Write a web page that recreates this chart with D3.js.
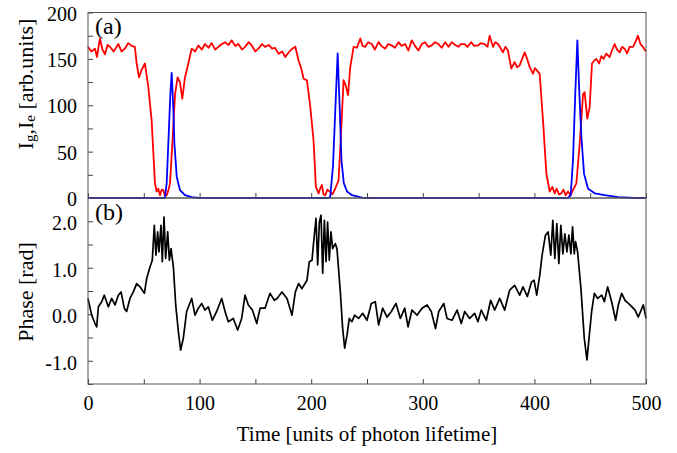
<!DOCTYPE html>
<html>
<head>
<meta charset="utf-8">
<script src="https://cdn.jsdelivr.net/npm/d3@7"></script>
<style>
    body { margin: 0; background: #fff; }
    text { font-family: "Liberation Serif", "Times New Roman", serif; fill: #000; }
</style>
</head>
<body>
<div id="chart"></div>
<script>
// red trace (I_g)
const redT = [0, 3, 6.3, 8, 10.7, 13, 15.2, 17.5, 19.7, 23, 27.2, 30, 33, 36, 39, 42, 43.6, 45.7, 48, 51, 54, 57, 60, 61.5, 63, 64.5, 66, 67.5, 69, 70.5, 72, 73.5, 75.6, 78, 80.3, 82.4, 84.5, 86.9, 89.9, 92.9, 96, 98.9, 102, 104.8, 108, 110.8, 114, 116.8, 120, 122.8, 126, 128.7, 132, 134.7, 138, 140.7, 144, 146.7, 150, 152.6, 156, 158.6, 162, 164.9, 167.5, 170.8, 174, 176.8, 179.8, 183, 185.8, 188.7, 191, 193.2, 196.2, 199.2, 202.1, 204.2, 206.6, 208, 209.6, 211, 212.6, 214.5, 217, 219, 221.5, 224.5, 226.6, 229, 231, 233, 235, 238, 241, 244, 246, 248.4, 251, 254.3, 257, 260.3, 263, 266.3, 269, 272.2, 275, 278.2, 281, 284.2, 287.1, 290.1, 293, 296.1, 299, 302, 305, 308, 311, 314, 317, 320, 323, 326, 329, 332, 334, 337.5, 340, 343.5, 346, 349.4, 352, 355.4, 358, 359.9, 362.9, 365, 367.4, 369.5, 371.8, 374, 376.3, 379.3, 382.3, 384.5, 386.8, 389, 391.3, 393.5, 395.8, 398.7, 400.5, 402.6, 404.7, 407.7, 410.7, 413.7, 416, 418.2, 420, 422, 424.1, 426, 428, 430.1, 432.5, 434.6, 437.6, 440.6, 443.6, 445, 447.4, 449.5, 451.6, 453.5, 455.5, 458, 460, 462, 464.4, 467.4, 469.5, 471.9, 474, 476.4, 478.5, 480.8, 483, 485.3, 488.3, 490.5, 492.8, 495, 497.3, 499, 500];
const redV = [163, 158, 161, 152, 172, 160, 155, 165, 163, 158, 166, 158, 161, 167, 164, 163, 145, 130, 138, 145, 120, 84, 16, 7, 10, 3, 9, 8.6, 2, 3, 8, 16, 59, 112, 130, 125, 107, 130, 145, 161, 158, 164.5, 160, 166, 162, 167, 160, 163, 166, 168, 165, 170, 164, 166, 160, 163, 168, 164.5, 158, 161, 166, 163, 165, 161, 162, 155.6, 158, 152, 157, 161, 163, 148, 140, 128.6, 126.8, 98, 62, 12, 5, 10, 14, 4, 3, 9, 6.8, 4, 10, 19, 66, 127, 121, 111, 141, 163, 162, 172, 164, 163, 168, 166, 160, 168, 164, 161, 166, 164.5, 162, 168, 164, 166, 159, 170, 164, 159, 166, 168, 163, 164.5, 168, 166, 162, 168, 163, 168, 165, 163, 166, 166, 163, 168, 164, 164.5, 167, 166, 163, 175, 163, 168, 166, 162, 157, 163, 159, 139.5, 146.6, 141, 143, 150, 157, 150, 141, 134, 140, 137, 134, 84, 26.5, 7, 12, 5, 10, 4, 5, 9, 3, 7, 3, 8.6, 15.8, 58.8, 112, 114, 85.6, 98, 145, 148, 150, 145, 153, 150, 155.6, 152, 159, 166, 160, 157, 163, 161, 156, 163, 163, 168, 175, 166, 163, 159.5, 158];

// blue trace (I_e)
const blueT = [0, 66, 68.9, 70.5, 72.6, 73.8, 75, 76.5, 77.4, 79.5, 82.4, 86.9, 92.9, 100, 215, 217, 219.5, 221.6, 223.7, 225.6, 227.1, 229.2, 232.1, 236.6, 245.5, 255, 430, 432.5, 434.6, 436.6, 438.5, 440.3, 442.1, 444.5, 448.1, 454.1, 463, 475, 490, 500];
const blueV = [0, 0, 0, 16, 77, 112, 135, 95, 59, 23, 8.6, 3, 1, 0, 0, 1, 34, 95, 156, 95, 41, 16, 7, 3, 0.5, 0, 0, 3, 41, 112, 170, 112, 66, 26, 10, 5, 3, 1, 0, 0];

// phase trace
const phaseT = [0, 3.3, 6.3, 7.8, 9.3, 12.3, 14.6, 18.2, 21.2, 24.2, 27.2, 29.6, 32.5, 34.6, 37.6, 40.6, 43.6, 46.6, 50.5, 52.6, 55.6, 57.6, 59.4, 60.9, 62.4, 63.6, 65.4, 66.6, 68.1, 69.6, 71.4, 72.9, 74.4, 76.5, 78.6, 81, 83, 85.4, 88.4, 92.9, 95.9, 98.9, 101.9, 104.8, 107.8, 111.4, 115.3, 119.8, 122.8, 125.7, 130.2, 134.1, 137.7, 140.7, 143.7, 147.3, 151.2, 154.2, 158.6, 163.1, 167, 169.4, 173.8, 178.3, 182.8, 185.8, 188.7, 191.7, 196.2, 198.3, 200.7, 202.8, 204.3, 205.8, 207.3, 208.8, 210.3, 211.8, 213.3, 214.7, 216.2, 217.7, 219.2, 221.6, 223.1, 226.1, 228.2, 230, 232.1, 234.1, 236.5, 238.9, 242.5, 246.1, 250, 253.9, 257.4, 260.4, 264, 268, 271.8, 276, 279.9, 283.8, 286.8, 290.3, 294.8, 299.3, 303.8, 307.6, 311.4, 314.3, 318.8, 321.7, 326.2, 330.7, 334.5, 337.5, 342, 346.4, 349.4, 352.4, 356.9, 360.8, 364.4, 368.9, 373.4, 377.8, 382.3, 386.8, 389.8, 393.7, 397.3, 399.7, 402.1, 404.8, 406.9, 409.9, 412.3, 414.7, 416.5, 418.3, 420.1, 421.9, 423.7, 425.5, 427.3, 429.1, 430.9, 432.7, 434.2, 435.7, 436.9, 438.7, 441.7, 444.7, 447.1, 449.2, 451.3, 453.7, 456.7, 460.3, 462.7, 465.6, 469.2, 472.8, 475.2, 478.2, 481.2, 485.7, 490.2, 493.1, 497.6, 500];
const phaseV = [0.34, -0.02, -0.2, -0.27, 0.16, 0.27, 0.41, 0.16, 0.34, 0.2, 0.41, 0.48, 0.13, 0.06, 0.34, 0.48, 0.66, 0.59, 0.45, 0.77, 1.02, 1.16, 1.91, 1.27, 1.77, 1.34, 1.91, 1.13, 2.09, 1.2, 1.77, 1.16, 1.41, 1.02, 0.2, -0.38, -0.77, -0.52, 0.06, 0.34, -0.02, 0.13, 0.23, 0.09, 0.16, -0.13, 0.06, 0.34, 0.06, -0.16, -0.09, -0.34, -0.09, 0.41, 0.2, 0.09, -0.2, 0.13, 0.13, 0.45, 0.3, 0.34, 0.48, 0.34, -0.02, 0.48, 0.66, 0.55, 0.73, 1.13, 1.16, 1.7, 2.06, 1.06, 1.98, 2.13, 0.88, 2.02, 1.13, 1.98, 1.16, 1.77, 1.41, 1.52, 1.41, 0.48, -0.31, -0.73, -0.45, -0.09, -0.16, -0.02, -0.09, 0.02, -0.13, 0.23, 0.27, -0.23, 0.13, -0.06, 0.06, 0.23, -0.09, 0.13, -0.27, 0.09, -0.02, 0.13, 0.2, 0.06, -0.31, 0.06, 0.23, -0.09, -0.13, 0.09, -0.2, 0.06, -0.09, 0.02, -0.16, 0.09, -0.13, 0.3, 0.09, 0.34, 0.09, 0.52, 0.62, 0.41, 0.59, 0.38, 0.69, 0.73, 0.41, 0.84, 1.27, 1.7, 1.77, 1.27, 2.02, 1.2, 1.95, 1.09, 1.91, 1.3, 1.73, 1.34, 1.7, 1.3, 1.88, 1.3, 1.56, 1.34, 0.55, -0.52, -0.98, -0.45, 0.06, 0.45, 0.34, 0.41, 0.27, 0.59, 0.27, -0.13, 0.2, 0.45, 0.3, 0.2, 0.09, -0.06, 0.2, -0.09];

const xTicks = [0, 50, 100, 150, 200, 250, 300, 350, 400, 450, 500];
const topTicks = [0, 25, 50, 75, 100, 125, 150, 175, 200];
const botTicks = [-1.5, -1, -0.5, 0, 0.5, 1, 1.5, 2, 2.5];

const W = 677, H = 453;
const svg = d3.select('#chart').append('svg')
    .attr('width', W)
    .attr('height', H);

const x = d3.scaleLinear().domain([0, 500]).range([88, 646]);
const yTop = d3.scaleLinear().domain([0, 200]).range([198, 12.5]);
const yBot = d3.scaleLinear().domain([-1.5, 2.5]).range([384, 198]);

function styleAxis(g) {
    g.select('.domain').remove();
    g.selectAll('line').attr('stroke', '#444');
    g.selectAll('text').style('font-size', '20px').style('font-family', '"Liberation Serif", serif');
}

// ticks of the top panel
svg.append('g')
    .attr('transform', 'translate(88,0)')
    .call(d3.axisLeft(yTop).tickValues(topTicks).tickSize(-5).tickPadding(11)
        .tickFormat(d => d % 50 === 0 ? d : ''))
    .call(styleAxis)
    .selectAll('text').attr('dy', '0.38em');

svg.append('g')
    .attr('transform', 'translate(0,198)')
    .call(d3.axisBottom(x).tickValues(xTicks).tickSize(-5).tickFormat(''))
    .call(styleAxis);

// ticks of the bottom panel
svg.append('g')
    .attr('transform', 'translate(88,0)')
    .call(d3.axisLeft(yBot).tickValues(botTicks).tickSize(-5).tickPadding(11)
        .tickFormat(d => Number.isInteger(d) && d >= -1 && d <= 2 ? d.toFixed(1) : ''))
    .call(styleAxis)
    .selectAll('text').attr('dy', '0.42em');

svg.append('g')
    .attr('transform', 'translate(0,384)')
    .call(d3.axisBottom(x).tickValues(xTicks).tickSize(-5).tickPadding(12)
        .tickFormat(d => d % 100 === 0 ? d : ''))
    .call(styleAxis);

// curves
const lineTop = d3.line().x(d => x(d[0])).y(d => yTop(d[1]));
const lineBot = d3.line().x(d => x(d[0])).y(d => yBot(d[1]));

svg.append('path')
    .datum(redT.map((t, i) => [t, redV[i]]))
    .attr('fill', 'none')
    .attr('stroke', '#ff0000')
    .attr('stroke-width', 1.8)
    .attr('stroke-linejoin', 'round')
    .attr('d', lineTop);

svg.append('path')
    .datum(blueT.map((t, i) => [t, blueV[i]]))
    .attr('fill', 'none')
    .attr('stroke', '#0000ff')
    .attr('stroke-width', 1.8)
    .attr('stroke-linejoin', 'round')
    .attr('d', lineTop);

svg.append('path')
    .datum(phaseT.map((t, i) => [t, phaseV[i]]))
    .attr('fill', 'none')
    .attr('stroke', '#000')
    .attr('stroke-width', 1.7)
    .attr('stroke-linejoin', 'round')
    .attr('d', lineBot);

// frames
[[yTop, 0, 200], [yBot, -1.5, 2.5]].forEach(function (p) {
    svg.append('rect')
        .attr('x', x(0))
        .attr('y', p[0](p[2]))
        .attr('width', x(500) - x(0))
        .attr('height', p[0](p[1]) - p[0](p[2]))
        .attr('fill', 'none')
        .attr('stroke', '#555')
        .attr('stroke-width', 1);
});

// panel letters
svg.append('text').attr('x', 95).attr('y', 34).style('font-size', '24px').text('(a)');
svg.append('text').attr('x', 95).attr('y', 220).style('font-size', '24px').text('(b)');

// axis titles
const yl = svg.append('text')
    .attr('transform', 'translate(25,84) rotate(-90)')
    .attr('text-anchor', 'middle')
    .attr('dominant-baseline', 'central')
    .style('font-size', '22px');
yl.append('tspan').text('I');
yl.append('tspan').attr('dy', 5).style('font-size', '15px').text('g');
yl.append('tspan').attr('dy', -5).text(',I');
yl.append('tspan').attr('dy', 5).style('font-size', '15px').text('e');
yl.append('tspan').attr('dy', -5).text(' [arb.units]');

svg.append('text')
    .attr('transform', 'translate(25,292) rotate(-90)')
    .attr('text-anchor', 'middle')
    .attr('dominant-baseline', 'central')
    .style('font-size', '22px')
    .text('Phase [rad]');

svg.append('text')
    .attr('x', 367)
    .attr('y', 441)
    .attr('text-anchor', 'middle')
    .style('font-size', '21px')
    .text('Time [units of photon lifetime]');
</script>
</body>
</html>
